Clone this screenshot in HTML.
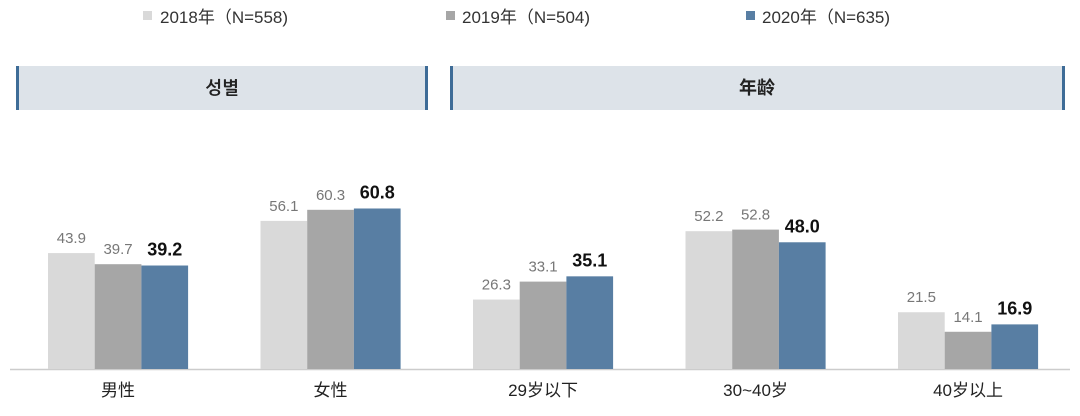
<!DOCTYPE html>
<html><head><meta charset="utf-8"><style>
body{margin:0;background:#fff;width:1080px;height:411px;overflow:hidden;font-family:"Liberation Sans","Noto Sans CJK SC",sans-serif}
svg text{font-family:"Liberation Sans","Noto Sans CJK SC",sans-serif}
</style></head><body>
<svg width="1080" height="411">
<g>
<g><rect x="143" y="11" width="9" height="9" fill="#d9d9d9"/><text x="160" y="23" font-size="17" fill="#333">2018年（N=558)</text></g>
<g><rect x="446" y="11" width="9" height="9" fill="#a6a6a6"/><text x="462" y="23" font-size="17" fill="#333">2019年（N=504)</text></g>
<g><rect x="746" y="11" width="9" height="9" fill="#587ea3"/><text x="762" y="23" font-size="17" fill="#333">2020年（N=635)</text></g>
</g>
<g><rect x="16" y="66" width="412" height="44" fill="#dde3e9"/><rect x="16" y="66" width="3" height="44" fill="#3e6c97"/><rect x="425" y="66" width="3" height="44" fill="#3e6c97"/><text x="222" y="94" font-size="18" font-weight="bold" text-anchor="middle" fill="#222" style='font-family:"Liberation Sans","NanumGothic","Noto Sans CJK KR",sans-serif'>성별</text></g>
<g><rect x="450" y="66" width="615" height="44" fill="#dde3e9"/><rect x="450" y="66" width="3" height="44" fill="#3e6c97"/><rect x="1062" y="66" width="3" height="44" fill="#3e6c97"/><text x="757" y="94" font-size="18" font-weight="bold" text-anchor="middle" fill="#222">年龄</text></g>
<line x1="10" y1="369.5" x2="1070" y2="369.5" stroke="#ccc" stroke-width="1.5"/>
<g id="bars"></g>
</svg>
<script>
const categories=["男性","女性","29岁以下","30~40岁","40岁以上"];
const s2018=[43.9,56.1,26.3,52.2,21.5];
const s2019=[39.7,60.3,33.1,52.8,14.1];
const s2020=[39.2,60.8,35.1,48.0,16.9];
const series=[s2018,s2019,s2020];
const colors=["#d9d9d9","#a6a6a6","#587ea3"];
const base=369, scale=2.64;
const y=v=>base-v*scale;
const gx=i=>48+i*212.5, bw=46.7;
const g=document.getElementById('bars');
const NS="http://www.w3.org/2000/svg";
categories.forEach((c,i)=>{
 series.forEach((s,j)=>{
  const r=document.createElementNS(NS,'rect');
  
  
  r.setAttribute('x',gx(i)+j*bw);r.setAttribute('y',y(s[i]));
  r.setAttribute('width',bw);r.setAttribute('height',base-y(s[i]));
  r.setAttribute('fill',colors[j]);g.appendChild(r);
  const t=document.createElementNS(NS,'text');
  
  
  t.setAttribute('x',gx(i)+j*bw+bw/2);t.setAttribute('y',y(s[i])-10);
  t.setAttribute('text-anchor','middle');
  t.setAttribute('font-size',j==2?18:15);
  if(j==2)t.setAttribute('font-weight','bold');
  t.setAttribute('fill',j==2?'#111':'#777');
  t.textContent=s[i].toFixed(1);g.appendChild(t);
 });
 const l=document.createElementNS(NS,'text');
 
 
 l.setAttribute('x',gx(i)+1.5*bw);l.setAttribute('y',396);
 l.setAttribute('text-anchor','middle');l.setAttribute('font-size',17);
 l.setAttribute('fill','#222');l.textContent=c;g.appendChild(l);
});
</script>
</body></html>
